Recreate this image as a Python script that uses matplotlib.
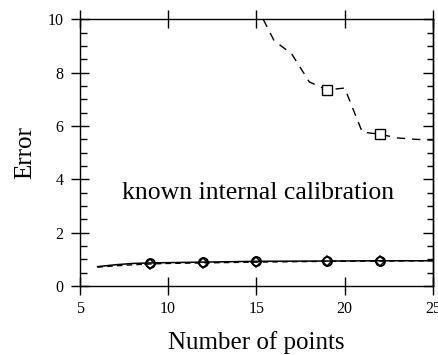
import numpy as np
import matplotlib.pyplot as plt

plt.rcParams['font.family'] = ['Liberation Serif', 'DejaVu Serif']

# error vs number of points, three runs
n_pts = [6, 7, 8, 9, 10, 12, 15, 19, 22, 25]
err_solid = [0.73, 0.80, 0.85, 0.87, 0.88, 0.90, 0.93, 0.94, 0.95, 0.95]
err_dash = [0.71, 0.76, 0.80, 0.83, 0.85, 0.87, 0.90, 0.93, 0.94, 0.95]

n_sq = [15, 16, 17, 18, 19, 20, 21, 22, 23, 24, 25]
err_sq = [10.5, 9.2, 8.7, 7.65, 7.35, 7.42, 5.77, 5.69, 5.55, 5.50, 5.47]

mark_x = [9, 12, 15, 19, 22]

fig = plt.figure(figsize=(4.39, 3.55), dpi=100)
ax = fig.add_axes([0.182, 0.194, 0.804, 0.752])

ax.plot(n_pts, err_solid, '-', color='black', lw=1.1)
ax.plot(n_pts, err_dash, '--', color='black', lw=1.0, dashes=(4, 3))
ax.plot(n_sq, err_sq, '--', color='black', lw=1.0, dashes=(6, 5))

# markers on the curves
mi = [n_pts.index(x) for x in mark_x]
ax.plot([n_pts[i] for i in mi], [err_solid[i] for i in mi], 'o', ls='none',
        mfc='none', mec='black', ms=6.5, mew=1.3)
ax.plot([n_pts[i] for i in mi], [err_dash[i] for i in mi], 'D', ls='none',
        mfc='none', mec='black', ms=5, mew=1.1)
si = [n_sq.index(x) for x in [19, 22]]
ax.plot([n_sq[i] for i in si], [err_sq[i] for i in si], 's', ls='none',
        mfc='white', mec='black', ms=7.5, mew=1.0)

ax.text(7.4, 3.5, 'known internal calibration', fontsize=18.5, va='center')

ax.set_xlim(5, 25)
ax.set_ylim(0, 10)
ax.set_xticks([5, 10, 15, 20, 25])
ax.set_yticks([0, 2, 4, 6, 8, 10])
ax.set_yticks(np.arange(0, 10.01, 0.5), minor=True)
ax.tick_params(axis='x', which='major', direction='inout', length=13, width=1.0,
               top=True, labelsize=11.5, pad=4)
ax.tick_params(axis='y', which='major', direction='inout', length=13.5, width=1.0,
               labelsize=11.5, pad=5)
ax.tick_params(axis='y', which='minor', direction='in', length=5, width=1.0)

sec = ax.secondary_yaxis('right')
sec.set_yticks([0, 2, 4, 6, 8, 10])
sec.set_yticks(np.arange(0, 10.01, 0.5), minor=True)
sec.tick_params(which='major', direction='in', length=7, width=1.0, labelright=False)
sec.tick_params(which='minor', direction='in', length=4.5, width=1.0)
sec.spines['right'].set_linewidth(1.0)

for s in ax.spines.values():
    s.set_linewidth(1.0)

ax.set_xlabel('Number of points', fontsize=18, labelpad=10)
ax.set_ylabel('Error', fontsize=18, labelpad=8)

fig.savefig('out.png', dpi=100)
